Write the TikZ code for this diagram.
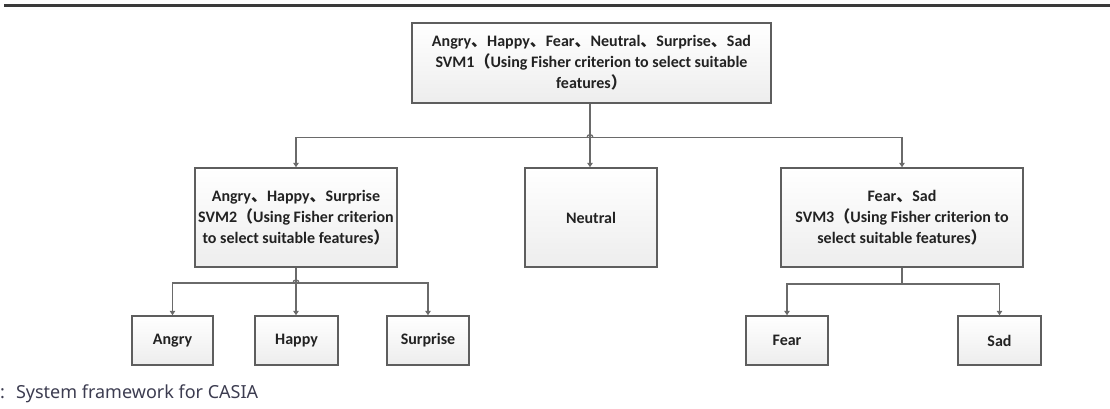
\documentclass[tikz,border=0pt]{standalone}
\usepackage{fontspec}
\setmainfont{Carlito}
\newfontfamily\cjk{Noto Sans CJK SC}
\newfontfamily\capfont{Noto Sans}
\usetikzlibrary{arrows.meta,shadows,calc}
\newcommand{\cjkcomma}{{\cjk 、}}
\newcommand{\cjklp}{{\cjk （}}
\newcommand{\cjkrp}{{\cjk ）}}
\definecolor{boxedge}{HTML}{5E5E5E}
\definecolor{wire}{HTML}{6A6A6A}
\definecolor{inktext}{HTML}{222222}
\definecolor{captext}{HTML}{3C3C50}
\definecolor{rule}{HTML}{3A3A3A}
\tikzset{
  box/.style={draw=boxedge, line width=1.4pt, top color=white, bottom color=black!7,
    text=inktext, font=\fontsize{16}{21}\selectfont\bfseries, align=center,
    inner sep=0pt, anchor=center,
    drop shadow={opacity=0.18, shadow xshift=1.2pt, shadow yshift=-1.2pt}},
  leafbox/.style={box, minimum height=49pt},
  wirestyle/.style={draw=wire, line width=1.3pt},
  arrowwire/.style={wirestyle, -{Triangle[length=4.5pt,width=5.5pt]}},
}
\begin{document}
\begin{tikzpicture}[x=1pt,y=-1pt]
\useasboundingbox (0,0) rectangle (1110,409);
% horizontal rule across the page head
\draw[rule, line width=2.4pt] (4,5.5) -- (1110,5.5);

% classifier tree
\node[box, minimum width=359pt, minimum height=80pt] (top) at (591.5,63)
  {Angry\cjkcomma Happy\cjkcomma Fear\cjkcomma Neutral\cjkcomma Surprise\cjkcomma Sad\\
   SVM1\cjklp Using Fisher criterion to select suitable\\ features\cjkrp};
\node[box, minimum width=202pt, minimum height=99pt] (svm2) at (296,217.5)
  {Angry\cjkcomma Happy\cjkcomma Surprise\\ SVM2\cjklp Using Fisher criterion\\ to select suitable features\cjkrp};
\node[box, minimum width=132pt, minimum height=99pt] (neutral) at (591,217.5) {Neutral};
\node[box, minimum width=242pt, minimum height=99pt] (svm3) at (902,217.5)
  {Fear\cjkcomma Sad\\ SVM3\cjklp Using Fisher criterion to\\ select suitable features\cjkrp};

\node[leafbox, minimum width=81pt] (angry) at (172.5,340.5) {Angry};
\node[leafbox, minimum width=83pt] (happy) at (296.5,340.5) {Happy};
\node[leafbox, minimum width=82pt] (surprise) at (428,340.5) {Surprise};
\node[leafbox, minimum width=82pt] (fear) at (787,340.5) {Fear};
\node[leafbox, minimum width=83pt] (sad) at (999.5,340.5) {Sad};

% branch points
\coordinate (j1) at ($(top.south)+(-1.5,34)$);
\coordinate (j2) at (svm2.south |- 0,283);
\coordinate (j3) at (svm3.south |- 0,284);

% first level
\draw[wirestyle] ($(top.south)+(-1.5,0)$) -- (j1);
\draw[arrowwire] (j1) -| (svm2.north);
\draw[arrowwire] (j1) -| (svm3.north);
\draw[arrowwire] (j1) -- (j1 |- neutral.north);
\draw[wirestyle] ($(j1)+(-3,0)$) .. controls +(0,-4) and +(0,-4) .. ($(j1)+(3,0)$);

% second level, left
\draw[wirestyle] (svm2.south) -- (j2);
\draw[arrowwire] (j2) -| (angry.north);
\draw[arrowwire] (j2) -| (surprise.north);
\draw[arrowwire] (j2) -- (j2 |- happy.north);
\draw[wirestyle] ($(j2)+(-3,0)$) .. controls +(0,-4) and +(0,-4) .. ($(j2)+(3,0)$);

% second level, right
\draw[wirestyle] (svm3.south) -- (j3);
\draw[arrowwire] (j3) -| (fear.north);
\draw[arrowwire] (j3) -| (sad.north);

% caption
\node[anchor=base west, inner sep=0pt, text=captext, font=\capfont\fontsize{18}{20}\selectfont] (cap) at (0,398)
  {:\hspace{11pt}System framework for CASIA};
\end{tikzpicture}
\end{document}
